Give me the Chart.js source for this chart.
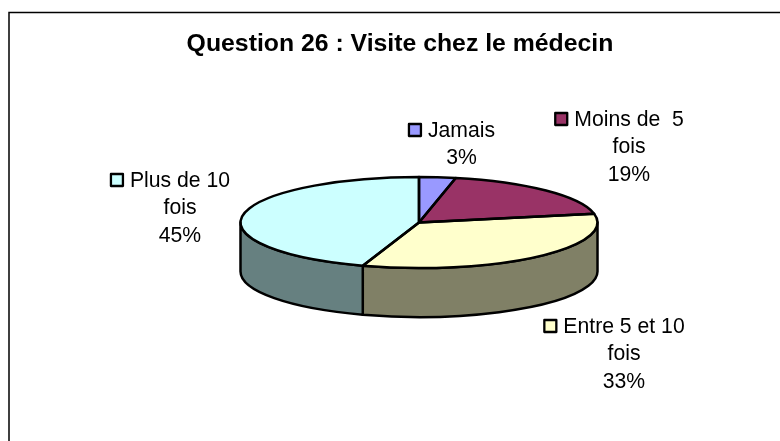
<!DOCTYPE html>
<html><head><meta charset="utf-8">
<style>html,body{margin:0;padding:0;background:#fff;overflow:hidden;width:780px;height:441px}canvas{display:block}</style>
<script src="https://cdn.jsdelivr.net/npm/chart.js@4"></script>
</head><body><canvas id="c" width="800" height="441" style="width:800px;height:441px"></canvas>
<script>
const titleText = 'Question 26 : Visite chez le médecin';
const categories = ['Jamais', 'Moins de  5 fois', 'Entre 5 et 10 fois', 'Plus de 10 fois'];
const values = [3.3, 18.6, 33.2, 44.9];
const percentLabels = ['3%', '19%', '33%', '45%'];
const topColors = ['#9999FF', '#993366', '#FFFFCC', '#CCFFFF'];
const sideColors = ['#4D4D80', '#4D1A33', '#808066', '#668080'];
const labelLines = [['Jamais'], ['Moins de  5', 'fois'], ['Entre 5 et 10', 'fois'], ['Plus de 10', 'fois']];
const labelCenterX = [461.5, 629, 624, 180];
const labelFirstBaseline = [137, 126, 333, 187];

const squash = 45.5 / 178.5, depth = 49;
const pie3d = {
  id: 'pie3d',
  afterLayout(chart) {
    chart.chartArea.left += 38;
    chart.chartArea.width -= 38;
  },
  beforeDraw(chart) {
    const c = chart.ctx;
    c.save();
    c.fillStyle = '#fff'; c.fillRect(0, 0, chart.width, chart.height);
    c.strokeStyle = '#000'; c.lineWidth = 1.5;
    c.strokeRect(9, 12.5, 782, 470);
    c.restore();
  },
  beforeDatasetsDraw(chart) {
    const c = chart.ctx, arcs = chart.getDatasetMeta(0).data;
    c.save();
    c.lineWidth = 2.5; c.strokeStyle = '#000'; c.lineJoin = 'round';
    arcs.forEach((a, i) => {
      const R = a.outerRadius, b = R * squash;
      const norm = t => { while (t < -Math.PI) t += 2 * Math.PI; while (t > Math.PI) t -= 2 * Math.PI; return t; };
      let s = norm(a.startAngle), e = s + (a.endAngle - a.startAngle);
      s = Math.max(s, 0); e = Math.min(e, Math.PI);
      if (e <= s) return;
      c.beginPath();
      c.ellipse(a.x, a.y, R, b, 0, s, e);
      c.ellipse(a.x, a.y + depth, R, b, 0, e, s, true);
      c.closePath();
      c.fillStyle = sideColors[i]; c.fill(); c.stroke();
    });
    c.restore();
    const a0 = arcs[0];
    c.save();
    c.translate(a0.x, a0.y); c.scale(1, squash); c.translate(-a0.x, -a0.y);
  },
  afterDatasetsDraw(chart) {
    const c = chart.ctx, arcs = chart.getDatasetMeta(0).data;
    c.restore();
    c.save();
    c.lineWidth = 2.5; c.strokeStyle = '#000'; c.lineJoin = 'round';
    arcs.forEach(a => {
      const R = a.outerRadius, b = R * squash;
      c.beginPath();
      c.moveTo(a.x, a.y);
      c.ellipse(a.x, a.y, R, b, 0, a.startAngle, a.endAngle);
      c.closePath();
      c.stroke();
    });
    c.font = '21.2px "Liberation Sans", Arial, sans-serif';
    c.textBaseline = 'alphabetic'; c.textAlign = 'center';
    categories.forEach((name, i) => {
      const lines = labelLines[i].concat(percentLabels[i]);
      lines.forEach((t, j) => {
        c.fillStyle = '#000';
        c.fillText(t, labelCenterX[i], labelFirstBaseline[i] + j * 27.4);
      });
      const w = c.measureText(lines[0]).width;
      const x = labelCenterX[i] - w / 2 - 19, y = labelFirstBaseline[i] - 13;
      c.fillStyle = topColors[i]; c.fillRect(x, y, 12, 12);
      c.lineWidth = 2.3; c.strokeRect(x, y, 12, 12);
    });
    c.restore();
  }
};

new Chart(document.getElementById('c'), {
  type: 'pie',
  plugins: [pie3d],
  data: { labels: categories, datasets: [{ data: values, backgroundColor: topColors, borderWidth: 0 }] },
  options: {
    responsive: false, animation: false, events: [],
    layout: { padding: { left: 0, right: 0, top: 0, bottom: 40 } },
    plugins: {
      legend: { display: false }, tooltip: { enabled: false },
      title: { display: true, text: titleText, color: '#000',
        font: { family: '"Liberation Sans", Arial, sans-serif', size: 24.8, weight: 'bold' },
        padding: { top: 29.5, bottom: -15.26 } }
    }
  }
});
</script></body></html>
